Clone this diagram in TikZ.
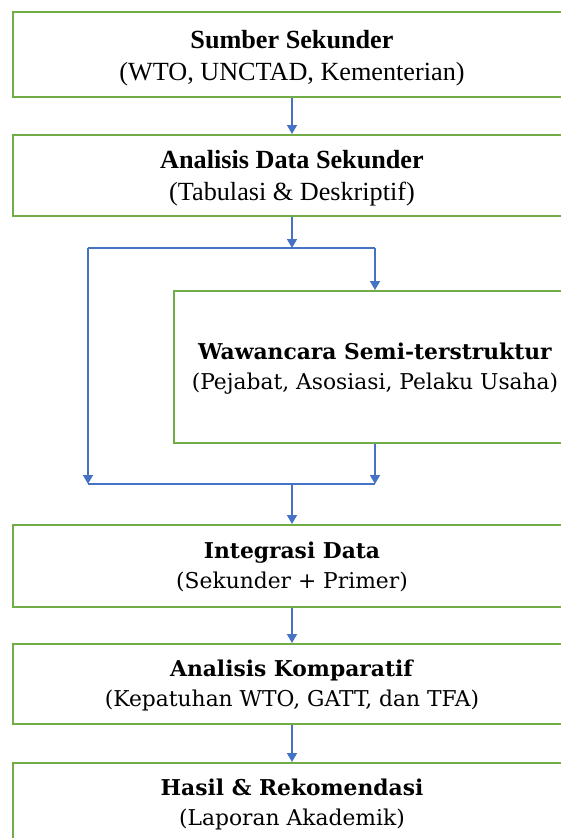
\documentclass[tikz,border=0pt]{standalone}
\usepackage{fontspec}
\setmainfont{Liberation Serif}
\newfontfamily\cambria{DejaVu Serif}
\usetikzlibrary{arrows.meta}
\definecolor{boxgreen}{RGB}{112,173,71}
\definecolor{arrowblue}{RGB}{68,114,196}
\tikzset{
  flowbox/.style={draw=boxgreen, line width=2pt, fill=white, inner sep=0pt, minimum width=558pt},
  boxtext/.style={align=center, inner sep=0pt},
  tnr/.style={boxtext, font=\fontsize{26.2}{32}\selectfont},
  cmb/.style={boxtext, font=\cambria\fontsize{21.8}{30}\selectfont},
  conn/.style={draw=arrowblue, line width=1.5pt},
  arr/.style={conn, -{Triangle[width=10pt,length=9pt]}}
}
\begin{document}
\begin{tikzpicture}[x=1pt,y=-1pt]
\useasboundingbox (0,0) rectangle (561,838);
\clip (0,0) rectangle (561,838);
\fill[white] (0,0) rectangle (561,838);
% boxes
\node[flowbox, minimum height=85pt] (n1) at (292,54.5) {};
\node[flowbox, minimum height=81pt] (n2) at (292,175.5) {};
\node[flowbox, minimum width=402pt, minimum height=152pt] (n3) at (375,367) {};
\node[flowbox, minimum height=82pt] (n4) at (292,566) {};
\node[flowbox, minimum height=80pt] (n5) at (292,684) {};
\node[flowbox, minimum height=82pt] (n6) at (292,804) {};
% texts
\node[tnr] (t1) at ([yshift=-4pt]n1.center) {\textbf{Sumber Sekunder}\\(WTO, UNCTAD, Kementerian)};
\node[tnr] (t2) at ([yshift=-3pt]n2.center) {\textbf{Analisis Data Sekunder}\\(Tabulasi \& Deskriptif)};
\node[cmb] (t3) at ([yshift=-1.5pt]n3.center) {\textbf{Wawancara Semi-terstruktur}\\(Pejabat, Asosiasi, Pelaku Usaha)};
\node[cmb] (t4) at ([yshift=-1pt]n4.center) {\textbf{Integrasi Data}\\(Sekunder + Primer)};
\node[cmb] (t5) at ([yshift=-1pt]n5.center) {\textbf{Analisis Komparatif}\\(Kepatuhan WTO, GATT, dan TFA)};
\node[cmb] (t6) at ([yshift=-0.5pt]n6.center) {\textbf{Hasil \& Rekomendasi}\\(Laporan Akademik)};
% junctions
\coordinate (jt) at (292,248);
\coordinate (jtl) at (88,248);
\coordinate (jtr) at (375,248);
\coordinate (jb) at (292,484);
\coordinate (jbl) at (88,484);
\coordinate (jbr) at (375,484);
% connectors
\draw[arr] (n1.south) -- (n2.north);
\draw[arr] (n2.south) -- (jt);
\draw[conn] (jtl) -- (jtr);
\draw[arr] (jtr) -- (n3.north);
\draw[arr] (jtl) -- (jbl);
\draw[arr] (n3.south) -- (jbr);
\draw[conn] (jbl) -- (jbr);
\draw[arr] (jb) -- (n4.north);
\draw[arr] (n4.south) -- (n5.north);
\draw[arr] (n5.south) -- (n6.north);
\end{tikzpicture}
\end{document}
